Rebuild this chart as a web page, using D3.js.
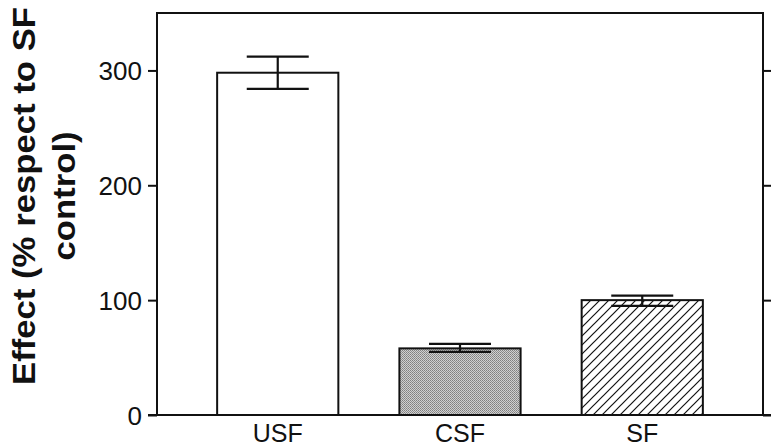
<!DOCTYPE html>
<html>
<head>
<meta charset="utf-8">
<script src="https://cdn.jsdelivr.net/npm/d3@7"></script>
<style>
  body { margin: 0; background: #fff; }
  svg { display: block; font-family: "Liberation Sans", Arial, Helvetica, sans-serif; }
</style>
</head>
<body>
<svg width="771" height="448"></svg>
<script>
var categories = ["USF", "CSF", "SF"];
var values = [298, 58, 100];
var errLow = [284, 55, 95];
var errHigh = [312, 62, 104];
var fills = ["white", "url(#stipple)", "url(#hatch)"];
var yTicks = [0, 100, 200, 300];

var svg = d3.select("svg"),
    width = +svg.attr("width"),
    height = +svg.attr("height");

var margin = { top: 13, right: 8, left: 157, bottom: 33 };
var x0 = margin.left, x1 = width - margin.right,
    y0 = height - margin.bottom, y1 = margin.top;

var x = d3.scaleBand()
    .domain(categories)
    .range([x0, x1])
    .paddingInner(0.335)
    .paddingOuter(0.33);

var y = d3.scaleLinear()
    .domain([0, 350])
    .range([y0, y1]);

// fill patterns
var defs = svg.append("defs");
var st = defs.append("pattern")
    .attr("id", "stipple")
    .attr("patternUnits", "userSpaceOnUse")
    .attr("width", 2).attr("height", 2);
st.append("rect").attr("width", 2).attr("height", 2).attr("fill", "#d0d0d0");
st.append("rect").attr("width", 1).attr("height", 1).attr("fill", "#808080");
st.append("rect").attr("x", 1).attr("y", 1).attr("width", 1).attr("height", 1).attr("fill", "#909090");

var ht = defs.append("pattern")
    .attr("id", "hatch")
    .attr("patternUnits", "userSpaceOnUse")
    .attr("width", 9).attr("height", 9);
ht.append("rect").attr("width", 9).attr("height", 9).attr("fill", "white");
ht.append("path")
    .attr("d", "M0,9 L9,0 M-2,2 L2,-2 M7,11 L11,7")
    .attr("stroke", "#111")
    .attr("stroke-width", 1.2);

// bars
svg.selectAll(".bar")
    .data(categories)
    .enter().append("rect")
    .attr("class", "bar")
    .attr("x", function (d) { return x(d); })
    .attr("y", function (d, i) { return y(values[i]); })
    .attr("width", x.bandwidth())
    .attr("height", function (d, i) { return y(0) - y(values[i]); })
    .attr("fill", function (d, i) { return fills[i]; })
    .attr("stroke", "#111")
    .attr("stroke-width", 2);

// error bars
var capHalf = 31;
var eb = svg.selectAll(".err")
    .data(categories)
    .enter().append("g")
    .attr("class", "err")
    .attr("stroke", "#111")
    .attr("stroke-width", 2.2);
eb.append("line")
    .attr("x1", function (d) { return x(d) + x.bandwidth() / 2; })
    .attr("x2", function (d) { return x(d) + x.bandwidth() / 2; })
    .attr("y1", function (d, i) { return y(errLow[i]); })
    .attr("y2", function (d, i) { return y(errHigh[i]); });
[errLow, errHigh].forEach(function (arr) {
    eb.append("line")
        .attr("x1", function (d) { return x(d) + x.bandwidth() / 2 - capHalf; })
        .attr("x2", function (d) { return x(d) + x.bandwidth() / 2 + capHalf; })
        .attr("y1", function (d, i) { return y(arr[i]); })
        .attr("y2", function (d, i) { return y(arr[i]); });
});

// axes
var left = svg.append("g")
    .attr("transform", "translate(" + x0 + ",0)")
    .call(d3.axisLeft(y).tickValues(yTicks).tickSize(9).tickPadding(6));
var right = svg.append("g")
    .attr("transform", "translate(" + x1 + ",0)")
    .call(d3.axisRight(y).tickValues(yTicks).tickSize(9).tickFormat(""));
[left, right].forEach(function (g) {
    g.select(".domain").remove();
    g.selectAll(".tick line").attr("stroke", "#111").attr("stroke-width", 2);
});
left.selectAll(".tick text")
    .attr("font-size", 26)
    .attr("fill", "#111")
    .attr("dy", "0.36em")
    .attr("font-family", "'Liberation Sans', Arial, sans-serif");

svg.append("rect")
    .attr("x", x0).attr("y", y1)
    .attr("width", x1 - x0).attr("height", y0 - y1)
    .attr("fill", "none")
    .attr("stroke", "#111")
    .attr("stroke-width", 2);
svg.append("line")
    .attr("x1", x0 - 9).attr("x2", width)
    .attr("y1", y0).attr("y2", y0)
    .attr("stroke", "#111").attr("stroke-width", 2);

// category labels
svg.selectAll(".cat")
    .data(categories)
    .enter().append("text")
    .attr("class", "cat")
    .attr("x", function (d) { return x(d) + x.bandwidth() / 2; })
    .attr("y", 442)
    .attr("text-anchor", "middle")
    .attr("font-size", 25)
    .attr("fill", "#111")
    .text(function (d) { return d; });

// y axis title
var yt = svg.append("text")
    .attr("transform", "translate(35,196) rotate(-90) scale(1.12,1)")
    .attr("text-anchor", "middle")
    .attr("font-size", 31)
    .attr("font-weight", "bold")
    .attr("fill", "#111");
yt.append("tspan").attr("x", 0).attr("y", 0).text("Effect (% respect to SF");
yt.append("tspan").attr("x", 0).attr("y", 40).text("control)");
</script>
</body>
</html>
